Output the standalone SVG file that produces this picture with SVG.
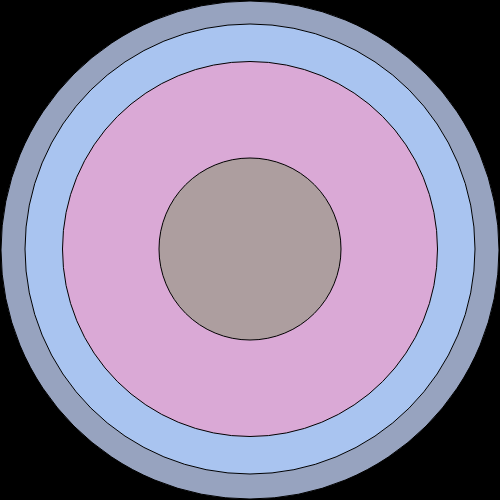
<svg xmlns="http://www.w3.org/2000/svg" width="500" height="500" viewBox="0 0 500 500">
<style>circle{stroke:#000;stroke-width:1}</style>
<rect width="500" height="500" fill="#000"/>
<g id="ring1"><circle cx="250" cy="250" r="249" fill="#97a3bf"/></g>
<g id="ring2"><circle cx="250" cy="249" r="225" fill="#a9c4f0"/></g>
<g id="ring3"><circle cx="250" cy="249" r="187.5" fill="#daa9d6"/></g>
<g id="core"><circle cx="250" cy="249" r="91" fill="#ad9e9f"/></g>
</svg>
